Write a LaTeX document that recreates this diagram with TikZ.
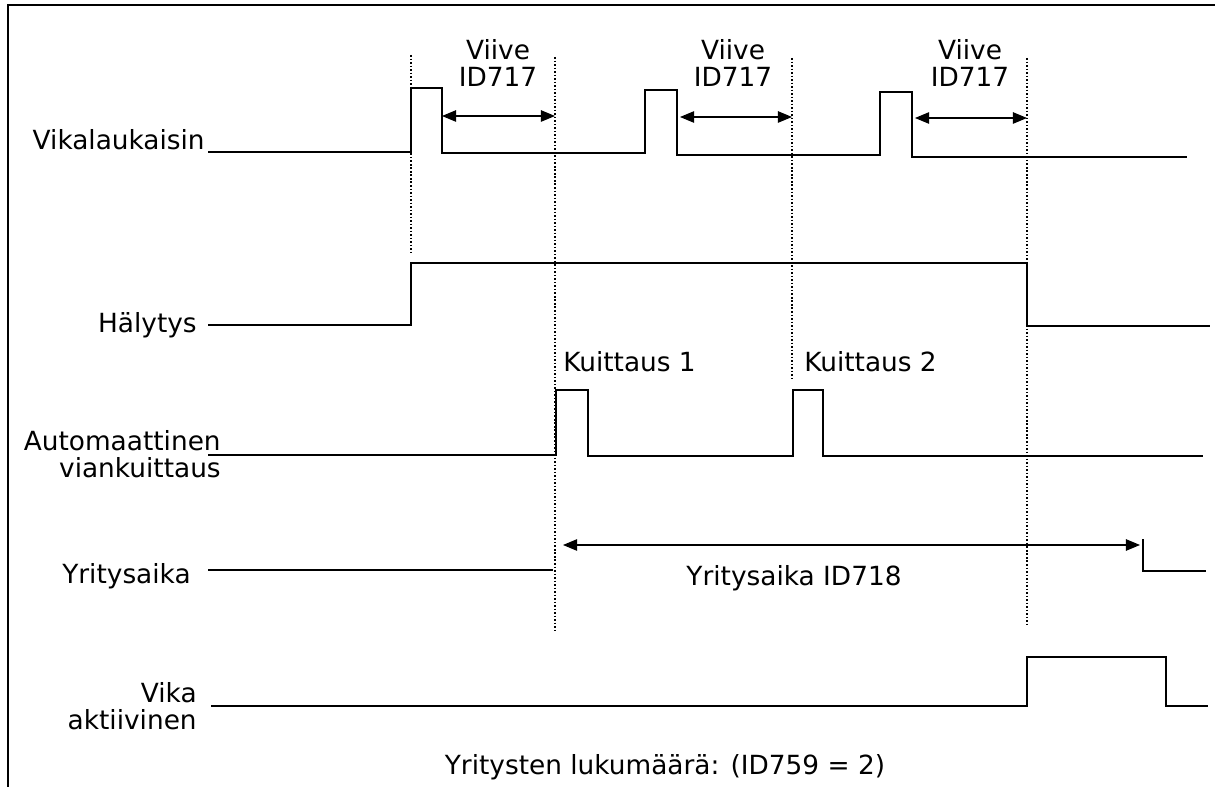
\documentclass[tikz,border=0pt]{standalone}
\usepackage{fontspec}
\setmainfont{DejaVu Sans}
\usetikzlibrary{arrows.meta, positioning}

\begin{document}
\begin{tikzpicture}[x=0.02cm, y=-0.02cm,
    font=\fontsize{15pt}{15.5pt}\selectfont,
    sig/.style={line width=0.8pt},
    guide/.style={line width=0.9pt, dash pattern=on 0.9pt off 1.1pt},
    span/.style={line width=0.7pt, {Triangle[length=8pt,width=6.5pt]}-{Triangle[length=8pt,width=6.5pt]}},
    lbl/.style={inner sep=0pt, align=right}]
\useasboundingbox (0,0) rectangle (1215,787);

% frame
\draw[line width=1pt] (8,787) -- (8,5) -- (1215,5);

% signal names
\node[lbl, anchor=base east] (trig) at (205,150) {Vikalaukaisin};
\node[lbl, anchor=base east] (alarm) at (197,333) {Hälytys};
\node[lbl, anchor=east] (reset) at (221,454) {Automaattinen\\viankuittaus};
\node[lbl, anchor=base east] (tryt) at (191,583) {Yritysaika};
\node[lbl, anchor=east] (flt) at (197,706) {Vika\\aktiivinen};

% signals
\draw[sig] (208,152) -| (411,88) -| (442,153) -| (645,90) -| (677,155)
    -| (880,92) -| (912,157) -- (1187,157);
\draw[sig] (208,325) -| (411,263) -| (1027,326) -- (1210,326);
\draw[sig] (208,455) -| (556,390) -| (588,456) -| (793,390) -| (823,456)
    -- (1203,456);
\draw[sig] (208,570) -- (553,570);
\draw[sig] (1143,539) -- (1143,571) -- (1206,571);
\draw[sig] (211,706) -| (1027,657) -| (1166,706) -- (1208,706);

% time marks
\draw[guide] (411,55) -- (411,255);
\draw[guide] (555,57) -- (555,630);
\draw[guide] (792,58) -- (792,378);
\draw[guide] (1027,58) -- (1027,625);

% delays
\foreach \i/\a/\b/\y/\m in {1/442/555/116/498, 2/680/792/117/733, 3/915/1027/118/970}{
    \coordinate (d\i s) at (\a,\y);
    \coordinate (d\i e) at (\b,\y);
    \draw[span] (d\i s) -- (d\i e);
    \node[align=center, inner sep=0pt] (viive\i) at (\m,63) {Viive\\ID717};
}

\node[inner sep=0pt, anchor=base west] (ack1) at (563,372) {Kuittaus 1};
\node[inner sep=0pt, anchor=base west] (ack2) at (804,372) {Kuittaus 2};

% retry time
\coordinate (rys) at (563,545);
\coordinate (rye) at (1140,545);
\draw[span] (rys) -- (rye);
\node[inner sep=0pt, anchor=base] (rylbl) at (794,585) {Yritysaika ID718};

\node[inner sep=0pt, anchor=base] (count) at (665,774) {Yritysten lukumäärä: (ID759 = 2)};
\end{tikzpicture}
\end{document}
